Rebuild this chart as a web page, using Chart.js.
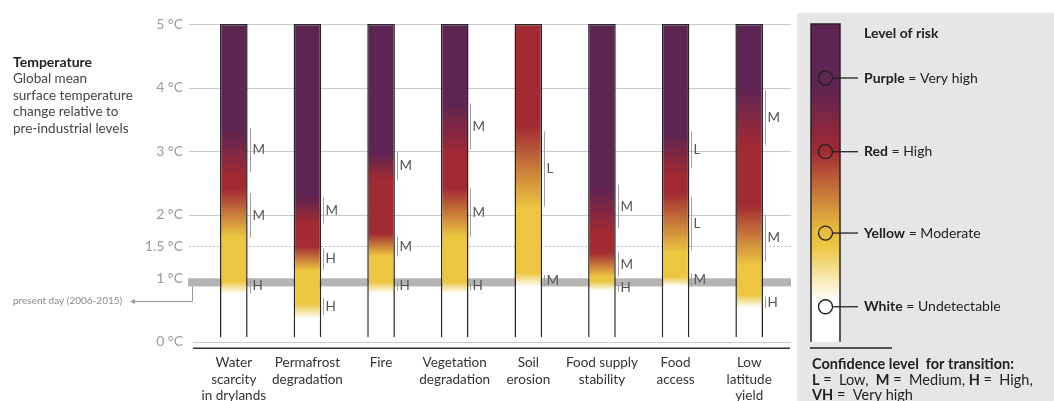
<!DOCTYPE html>
<html><head><meta charset="utf-8">
<script src="https://cdn.jsdelivr.net/npm/chart.js@4.4.1/dist/chart.umd.min.js"></script>
<style>html,body{margin:0;padding:0;background:#fff;overflow:hidden}canvas{display:block}</style>
</head><body><canvas id="c" width="1054" height="401"></canvas>
<script>
// ---------- DATA ----------
const categories = [["Water","scarcity","in drylands"],["Permafrost","degradation"],["Fire"],["Vegetation","degradation"],["Soil","erosion"],["Food supply","stability"],["Food","access"],["Low","latitude","yield"]];
const emberRange = [0.07, 5];
// transitions (°C start, °C end)
const toModerate = [[0.75,0.95],[0.36,0.6],[0.76,0.94],[0.76,0.94],[0.87,1.08],[0.8,0.95],[0.87,1.02],[0.53,0.74]];
const toHigh     = [[1.65,2.4],[1.12,1.5],[1.35,1.7],[1.65,2.42],[2.1,3.4],[1.02,1.4],[1.4,2.35],[1.2,2.15]];
const toVeryHigh = [[2.6,3.35],[1.87,2.3],[2.55,2.97],[2.95,3.75],null,[1.72,2.44],[2.6,3.3],[3.08,4.0]];
const confidence = [
  [[0.76,1.0,"H"],[1.63,2.34,"M"],[2.67,3.36,"M"]],
  [[0.42,0.69,"H"],[1.13,1.48,"H"],[1.86,2.28,"M"]],
  [[0.81,0.95,"H"],[1.34,1.65,"M"],[2.55,2.99,"M"]],
  [[0.81,0.95,"H"],[1.65,2.42,"M"],[3.02,3.75,"M"]],
  [[0.87,1.05,"M"],[2.13,3.31,"L"]],
  [[0.79,0.92,"H"],[1.02,1.42,"M"],[1.79,2.47,"M"]],
  [[0.87,1.08,"M"],[1.44,2.28,"L"],[2.73,3.31,"L"]],
  [[0.53,0.71,"H"],[1.26,2.0,"M"],[3.1,3.96,"M"]]
];
const tickValues = [0,1,1.5,2,3,4,5];
const tickLabels = ["0 °C","1 °C","1.5 °C","2 °C","3 °C","4 °C","5 °C"];
const presentDay = [0.87, 1.0];
const legendLevels = [["Purple","= Very high",4.15],["Red","= High",2.99],["Yellow","= Moderate",1.71],["White","= Undetectable",0.55]];
const legendStops = [[0,"#ffffff"],[0.65,"#ffffff"],[1.5,"#ecc641"],[1.8,"#e6b83e"],[3.0,"#a12a33"],[4.0,"#5e2452"],[5,"#5e2452"]];

// ---------- STYLE ----------
const WHITE="#ffffff", YELLOW="#ecc641", RED="#a12a33", PURPLE="#5e2452";
const FONT="Lato, 'Open Sans', sans-serif";

function emberStops(i){
  const s=[[0,WHITE],[toModerate[i][0],WHITE],[toModerate[i][1],YELLOW],[toHigh[i][0],YELLOW],[toHigh[i][1],RED]];
  if(toVeryHigh[i]) s.push([toVeryHigh[i][0],RED],[toVeryHigh[i][1],PURPLE],[5,PURPLE]);
  else s.push([5,RED]);
  return s;
}
function makeGradient(c, ys, stops){
  const g=c.createLinearGradient(0, ys.getPixelForValue(0), 0, ys.getPixelForValue(5));
  stops.forEach(([t,col])=>g.addColorStop(Math.min(1,Math.max(0,t/5)),col));
  return g;
}
function richText(c, parts, x, y, size){
  let cx=x;
  parts.forEach(([t,b])=>{ c.font=(b?"bold ":"")+size+"px "+FONT; c.fillText(t,cx,y); cx+=c.measureText(t).width; });
}

const deco = {
  id:"deco",
  beforeDraw(chart){
    const c=chart.ctx; c.save();
    c.fillStyle="#e6e6e6"; c.fillRect(797,13,257,388);
    c.restore();
  },
  beforeDatasetsDraw(chart){
    const c=chart.ctx, ys=chart.scales.y, a=chart.chartArea; c.save();
    const L=a.left-8, R=a.right+5;
    // present-day band
    c.fillStyle="#b4b4b4";
    const yb1=ys.getPixelForValue(presentDay[1]), yb0=ys.getPixelForValue(presentDay[0]);
    c.fillRect(L-1, yb1, R-L+1, yb0-yb1);
    // grid
    tickValues.forEach(v=>{
      const y=Math.round(ys.getPixelForValue(v))+0.5;
      c.beginPath(); c.lineWidth=1; c.strokeStyle= v===1.5?"#bdbdbd":"#c9c9c9";
      c.setLineDash(v===1.5?[2,2]:[]);
      c.moveTo(v===0?L+4:L,y); c.lineTo(R,y); c.stroke();
    });
    c.setLineDash([]);
    const y0=ys.getPixelForValue(0);
    c.beginPath(); c.strokeStyle="#333"; c.lineWidth=1.6; c.moveTo(L+4,y0+6.5); c.lineTo(R-1,y0+6.5); c.stroke();
    c.restore();
  },
  afterDatasetsDraw(chart){
    const c=chart.ctx, ys=chart.scales.y, meta=chart.getDatasetMeta(0); c.save();
    // confidence brackets
    c.textBaseline="middle"; c.font="13.5px "+FONT;
    confidence.forEach((list,i)=>{
      const bar=meta.data[i]; const bx=Math.round(bar.x+bar.width/2)+2.5;
      list.forEach(([lo,hi,lab])=>{
        const y1=ys.getPixelForValue(hi), y0=ys.getPixelForValue(lo);
        c.beginPath(); c.strokeStyle="#a0a0a0"; c.lineWidth=1; c.moveTo(bx,y1); c.lineTo(bx,y0); c.stroke();
        c.fillStyle="#555"; c.fillText(lab,bx+2,(y0+y1)/2);
      });
    });
    // legend ember
    const lx=811, lw=29, lt=ys.getPixelForValue(5), lb=ys.getPixelForValue(0);
    c.fillStyle=makeGradient(c,ys,legendStops); c.fillRect(lx,lt,lw,lb-lt);
    c.beginPath(); c.strokeStyle="#262626"; c.lineWidth=1.5;
    c.moveTo(lx,lb); c.lineTo(lx,lt); c.lineTo(lx+lw,lt); c.lineTo(lx+lw,lb); c.stroke();
    c.fillStyle="#222"; c.textBaseline="middle"; c.textAlign="left";
    c.font="bold 14px "+FONT; c.fillText("Level of risk",864,33);
    legendLevels.forEach(([name,desc,t],k)=>{
      const y=ys.getPixelForValue(t);
      c.beginPath(); c.arc(lx+14.5,y,7,0,Math.PI*2);
      if(k===3){c.fillStyle="#fff"; c.fill();}
      c.strokeStyle="#222"; c.lineWidth=1.3; c.stroke();
      c.beginPath(); c.moveTo(lx+21.5,y); c.lineTo(858,y); c.stroke();
      c.fillStyle="#222"; richText(c,[[name,true],[" "+desc,false]],864,y,14);
    });
    c.beginPath(); c.strokeStyle="#222"; c.lineWidth=1.5; c.moveTo(810,348); c.lineTo(892,348); c.stroke();
    c.fillStyle="#222";
    richText(c,[["Confidence level  for transition:",true]],812,364,14.5);
    richText(c,[["L",true],[" =  Low,  ",false],["M",true],[" =  Medium, ",false],["H",true],[" =  High,",false]],812,380,14.5);
    richText(c,[["VH",true],[" =  Very high",false]],812,395,14.5);
    c.restore();
  },
  afterDraw(chart){
    const c=chart.ctx, ys=chart.scales.y; c.save();
    c.textBaseline="middle"; c.textAlign="left";
    c.fillStyle="#222"; c.font="bold 14px "+FONT; c.fillText("Temperature",13,62);
    c.fillStyle="#444"; c.font="13.5px "+FONT;
    ["Global mean","surface temperature","change relative to","pre-industrial levels"].forEach((t,k)=>c.fillText(t,13,79+k*16.5));
    // present day annotation
    c.fillStyle="#8a8a8a"; c.font="10px "+FONT; c.fillText("present day (2006-2015)",13,301);
    const yb=ys.getPixelForValue(presentDay[0]);
    c.beginPath(); c.strokeStyle="#9a9a9a"; c.lineWidth=1;
    c.moveTo(192.5,yb); c.lineTo(192.5,301.5); c.lineTo(131,301.5); c.stroke();
    c.beginPath(); c.moveTo(130,301.5); c.lineTo(135,299); c.lineTo(135,304); c.closePath(); c.fillStyle="#9a9a9a"; c.fill();
    c.restore();
  }
};

new Chart(document.getElementById("c"),{
  type:"bar",
  data:{labels:categories,datasets:[{
    data:categories.map(()=>emberRange),
    backgroundColor:(ctx)=>{const ys=ctx.chart.scales.y; if(!ys||!ctx.chart.chartArea) return "#fff"; return makeGradient(ctx.chart.ctx,ys,emberStops(ctx.dataIndex));},
    borderColor:"#262626", borderWidth:1.5, borderSkipped:"bottom",
    barPercentage:0.375, categoryPercentage:1
  }]},
  options:{
    responsive:false, animation:false, devicePixelRatio:1,
    layout:{padding:{left:0,right:268,top:24,bottom:0}},
    plugins:{legend:{display:false},tooltip:{enabled:false}},
    scales:{
      y:{min:0,max:5,
        afterBuildTicks:(s)=>{s.ticks=tickValues.map(v=>({value:v}));},
        afterFit:(s)=>{s.width=197;},
        grid:{display:false,drawTicks:false}, border:{display:false},
        ticks:{callback:(v)=>tickLabels[tickValues.indexOf(v)],color:"#9a9a9a",font:{family:FONT,size:14},padding:14}
      },
      x:{
        afterFit:(s)=>{s.height=59.3;},
        grid:{display:false,drawTicks:false}, border:{display:false},
        ticks:{color:"#333",font:{family:FONT,size:13.5,lineHeight:1.22},padding:13,maxRotation:0,autoSkip:false}
      }
    }
  },
  plugins:[deco]
});
</script></body></html>
